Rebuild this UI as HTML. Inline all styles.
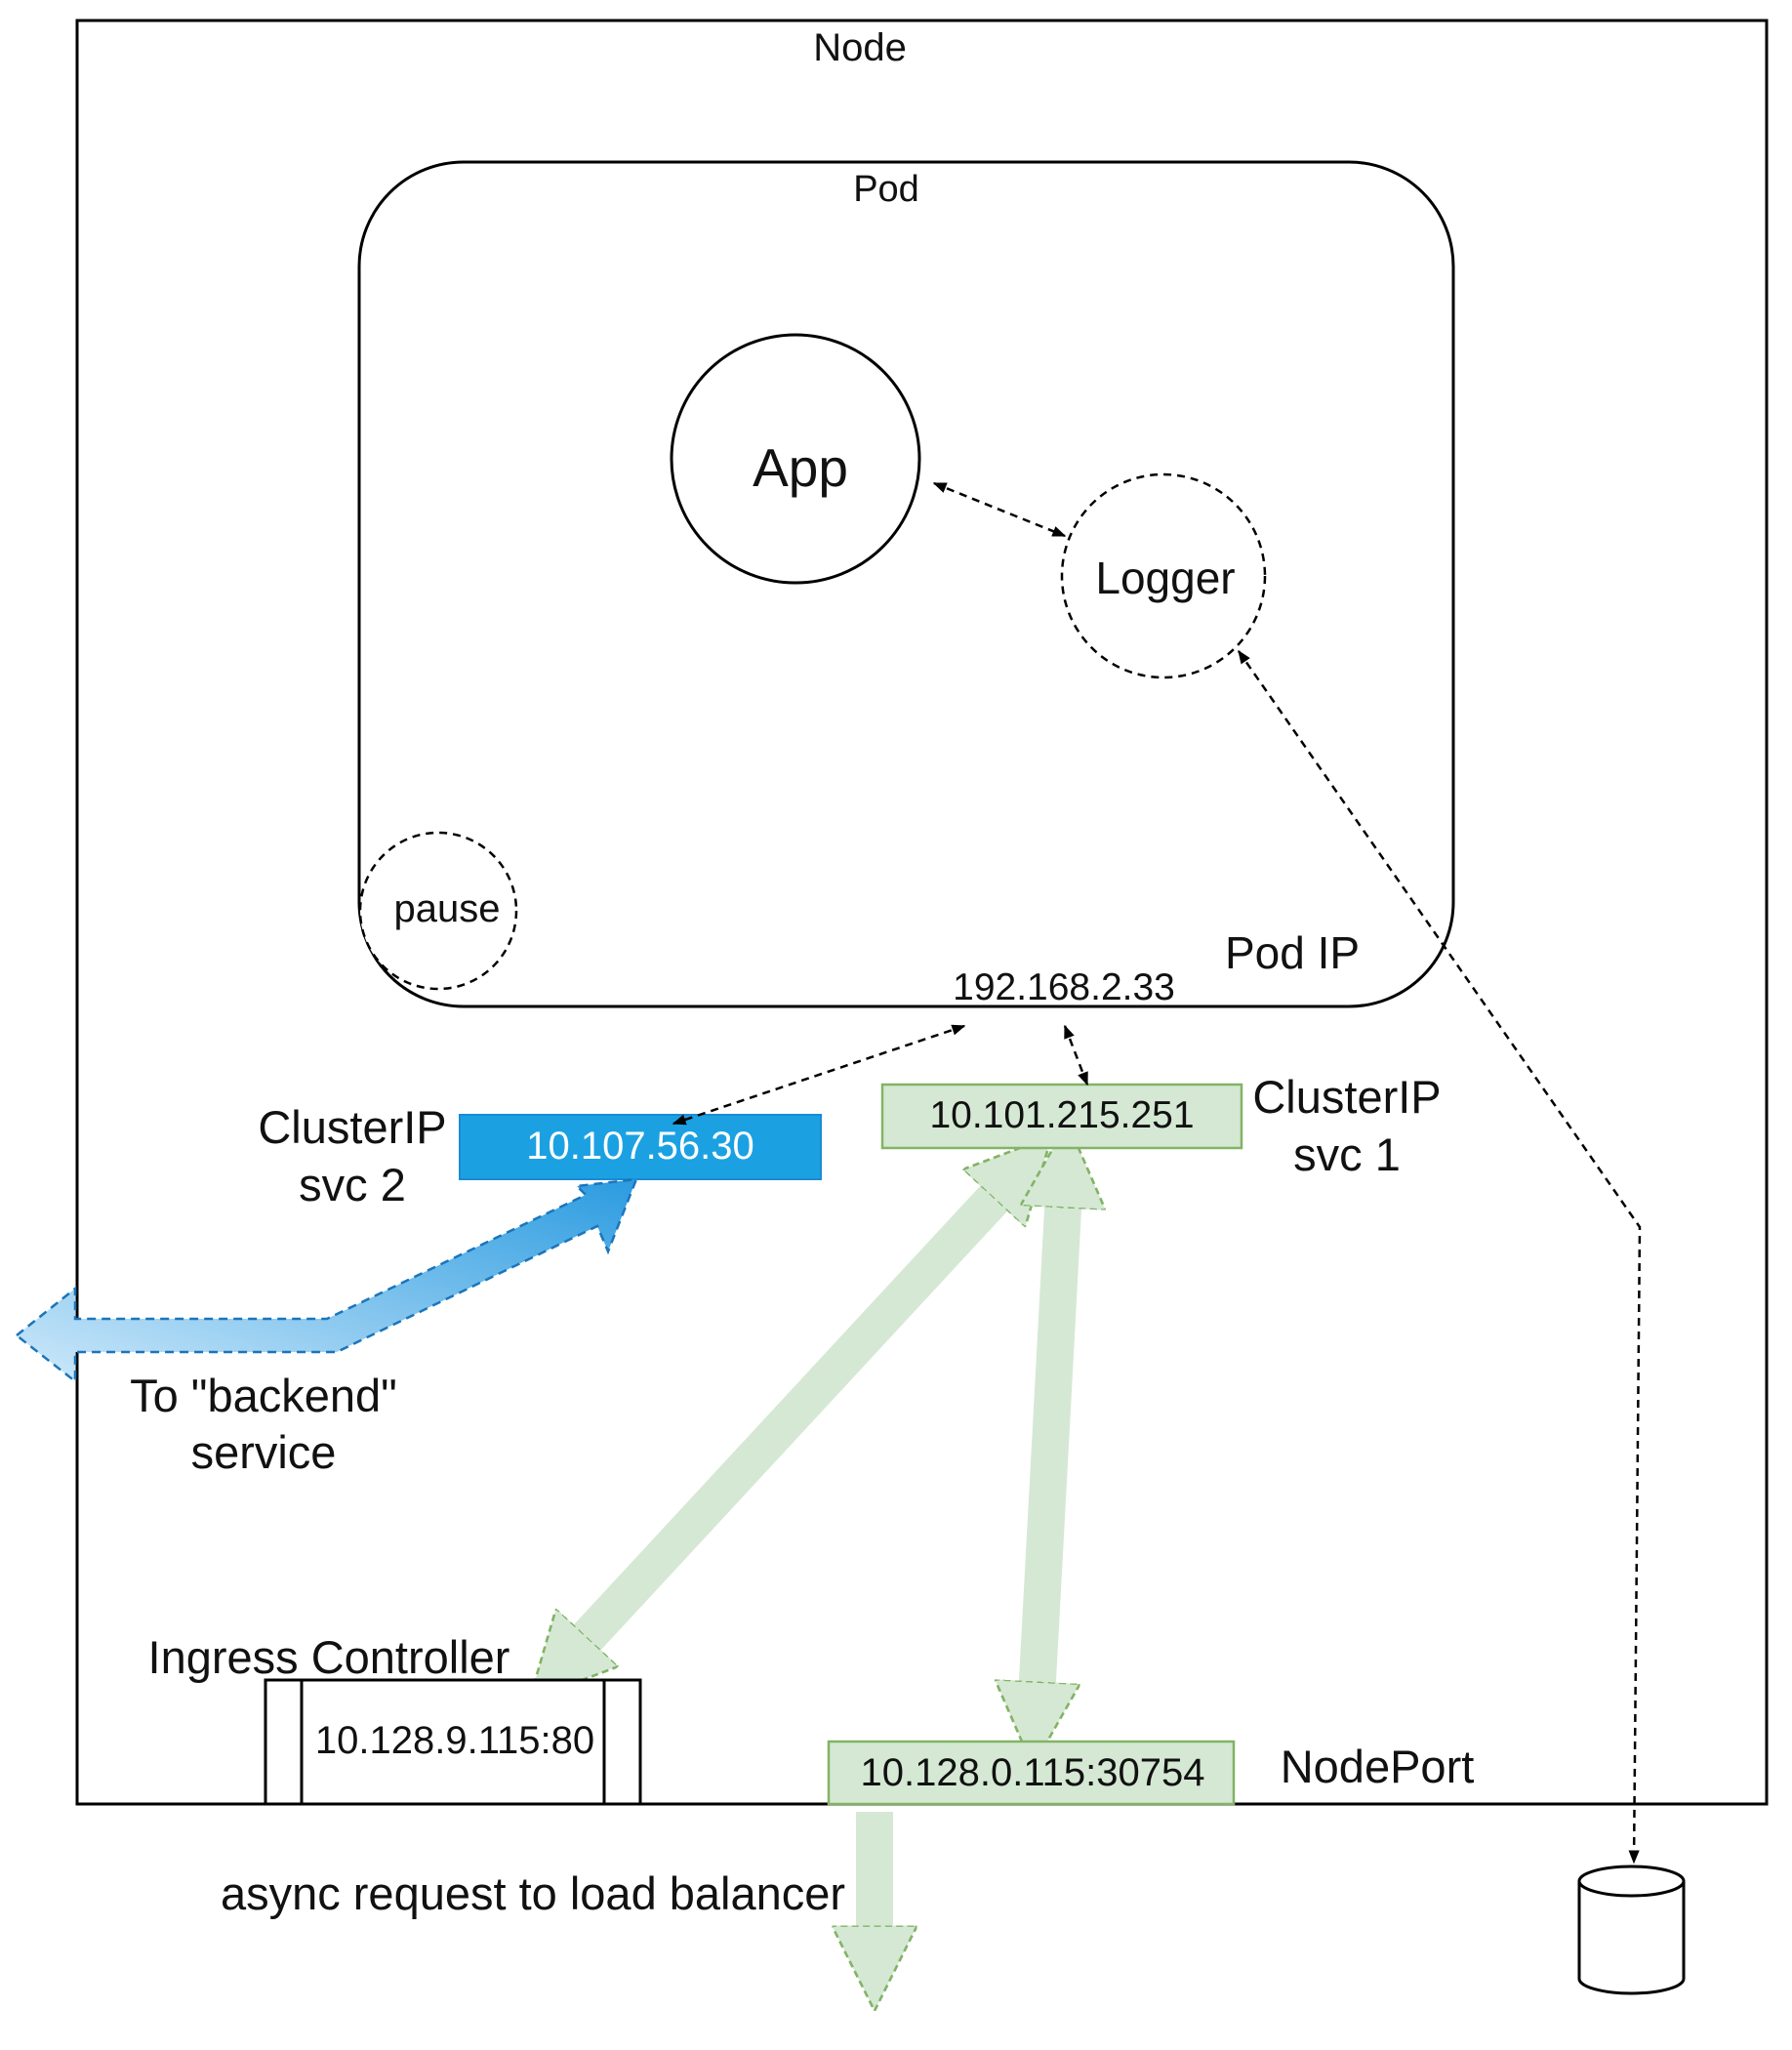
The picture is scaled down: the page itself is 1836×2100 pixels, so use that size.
<!DOCTYPE html>
<html><head><meta charset="utf-8"><style>
html,body{margin:0;padding:0;background:#fff;}
svg{display:block;}
text{font-family:"Liberation Sans",sans-serif;fill:#111;}
</style></head><body>
<svg width="1836" height="2100" viewBox="0 0 1836 2100" xmlns="http://www.w3.org/2000/svg">
<defs>
<marker id="ah" viewBox="0 0 10 10" refX="9" refY="5" markerWidth="14" markerHeight="14" markerUnits="userSpaceOnUse" orient="auto-start-reverse"><path d="M0,1 L10,5 L0,9 z" fill="#000"/></marker>
<marker id="gh" viewBox="0 0 10 10" refX="2" refY="5" markerWidth="2.3" markerHeight="2.3" markerUnits="strokeWidth" orient="auto-start-reverse"><path d="M0,0 L10,5 L0,10 z" fill="#d5e8d4" stroke="#82b366" stroke-width="0.3" stroke-dasharray="0.8 0.5"/></marker>
<linearGradient id="bg" x1="0" y1="1" x2="1" y2="0"><stop offset="0" stop-color="#cfe9fa"/><stop offset="1" stop-color="#2a9be0"/></linearGradient>
</defs>
<!-- Node -->
<rect x="79" y="21" width="1731" height="1827" fill="none" stroke="#000" stroke-width="3"/>
<text x="881" y="62" font-size="40" text-anchor="middle">Node</text>
<!-- Pod -->
<rect x="368" y="166" width="1121" height="865" rx="107" fill="none" stroke="#000" stroke-width="3"/>
<text x="908" y="206" font-size="38" text-anchor="middle">Pod</text>
<circle cx="815" cy="470" r="127" fill="#fff" stroke="#000" stroke-width="3"/>
<text x="820" y="498" font-size="55" text-anchor="middle">App</text>
<circle cx="1192" cy="590" r="104" fill="#fff" stroke="#000" stroke-width="2.5" stroke-dasharray="8 6"/>
<text x="1194" y="608" font-size="46" text-anchor="middle">Logger</text>
<circle cx="449" cy="933" r="80" fill="#fff" stroke="#000" stroke-width="2.5" stroke-dasharray="8 6"/>
<text x="458" y="944" font-size="40" text-anchor="middle">pause</text>
<text x="1324" y="992" font-size="46" text-anchor="middle">Pod IP</text>
<text x="1090" y="1024" font-size="39" text-anchor="middle">192.168.2.33</text>
<!-- green fat arrows -->
<g fill="none" stroke="#d5e8d4" stroke-width="38">
<line x1="1030" y1="1215" x2="590" y2="1690" marker-start="url(#gh)" marker-end="url(#gh)"/>
<line x1="1090" y1="1220" x2="1062" y2="1740" marker-start="url(#gh)" marker-end="url(#gh)"/>
<line x1="896" y1="1856" x2="896" y2="1990" marker-end="url(#gh)"/>
</g>
<!-- boxes -->
<rect x="471" y="1142" width="370" height="66" fill="#1ba1e2" stroke="#1b8ad6" stroke-width="2"/>
<text x="656" y="1187" font-size="40" text-anchor="middle" style="fill:#fff">10.107.56.30</text>
<!-- blue fat arrow -->
<polygon points="17,1368 77,1320 77,1351 335,1351 600,1224 591,1215 652,1208 623,1282 612,1256 345,1385 77,1385 77,1415" fill="url(#bg)" stroke="#1b75bb" stroke-width="2.5" stroke-dasharray="9 6"/>
<rect x="904" y="1111" width="368" height="65" fill="#d5e8d4" stroke="#82b366" stroke-width="2.5"/>
<text x="1088" y="1155" font-size="39" text-anchor="middle">10.101.215.251</text>
<!-- dashed arrows -->
<g stroke="#000" stroke-width="2.5" stroke-dasharray="8 6" fill="none">
<line x1="957" y1="495" x2="1091" y2="549" marker-start="url(#ah)" marker-end="url(#ah)"/>
<line x1="988" y1="1051" x2="690" y2="1151" marker-start="url(#ah)" marker-end="url(#ah)"/>
<line x1="1091" y1="1051" x2="1114" y2="1111" marker-start="url(#ah)" marker-end="url(#ah)"/>
<polyline points="1269,667 1680,1257 1674,1908" marker-start="url(#ah)" marker-end="url(#ah)"/>
</g>
<text x="361" y="1171" font-size="47" text-anchor="middle">ClusterIP</text>
<text x="361" y="1230" font-size="47" text-anchor="middle">svc 2</text>
<text x="1380" y="1140" font-size="47" text-anchor="middle">ClusterIP</text>
<text x="1380" y="1199" font-size="47" text-anchor="middle">svc 1</text>
<text x="270" y="1446" font-size="47" text-anchor="middle">To "backend"</text>
<text x="270" y="1504" font-size="47" text-anchor="middle">service</text>
<text x="337" y="1714" font-size="47" text-anchor="middle">Ingress Controller</text>
<rect x="272" y="1721" width="384" height="127" fill="#fff" stroke="#000" stroke-width="3"/>
<line x1="309" y1="1721" x2="309" y2="1848" stroke="#000" stroke-width="3"/>
<line x1="619" y1="1721" x2="619" y2="1848" stroke="#000" stroke-width="3"/>
<text x="466" y="1796" font-size="40" text-anchor="middle">10.128.9.115:80</text>
<rect x="849" y="1784" width="415" height="64" fill="#d5e8d4" stroke="#82b366" stroke-width="2.5"/>
<text x="1058" y="1829" font-size="40" text-anchor="middle">10.128.0.115:30754</text>
<text x="1411" y="1826" font-size="47" text-anchor="middle">NodePort</text>
<text x="546" y="1956" font-size="47" text-anchor="middle">async request to load balancer</text>
<!-- cylinder -->
<path d="M1618,1927 L1618,2027 A53.5,15 0 0 0 1725,2027 L1725,1927" fill="#fff" stroke="#000" stroke-width="3"/>
<ellipse cx="1671.5" cy="1927" rx="53.5" ry="15" fill="#fff" stroke="#000" stroke-width="3"/>
</svg>
</body></html>
